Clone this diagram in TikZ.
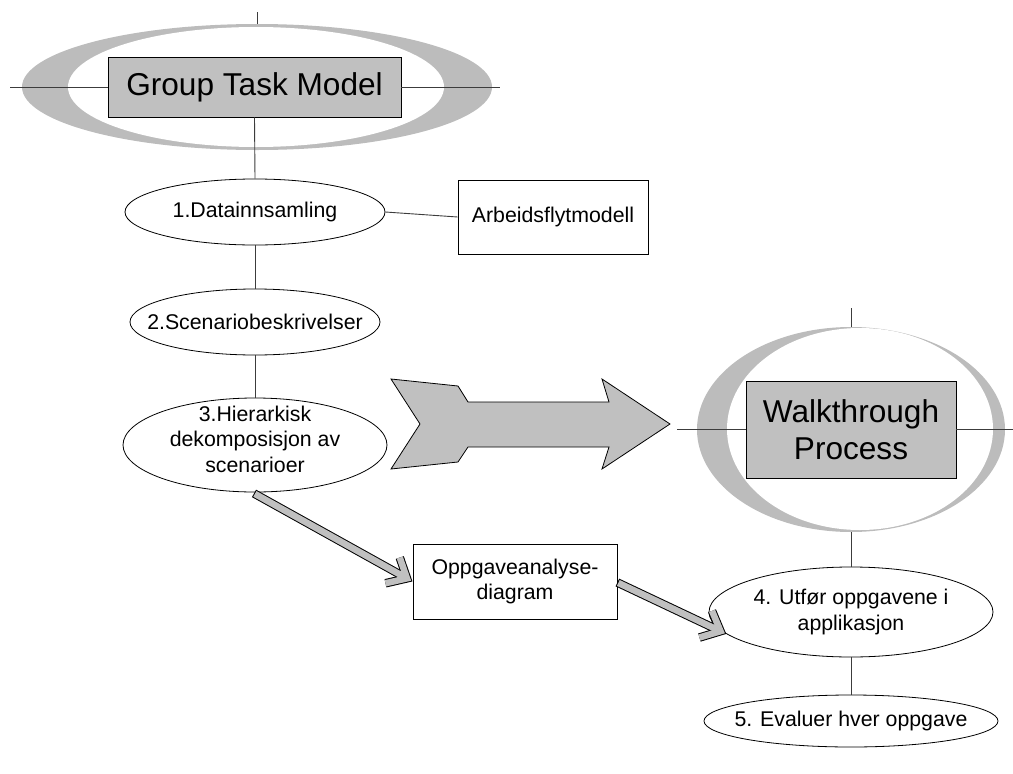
\documentclass[tikz,border=0pt]{standalone}
\usepackage{fontspec}
\setmainfont{Liberation Sans}
\usetikzlibrary{shapes.geometric,calc}
\definecolor{boxgray}{RGB}{192,192,192}
\definecolor{ringgray}{RGB}{188,188,188}
\definecolor{linegray}{RGB}{60,60,60}
\newcommand{\fatarr}[2]{%
  \draw[line width=8.5pt, black] (#1) -- (#2);
  \draw[line width=8.5pt, black, line join=miter, miter limit=10]
    ($(#2)!22pt!42:(#1)$) -- (#2) -- ($(#2)!22pt!-42:(#1)$);
  \draw[line width=6.5pt, boxgray, shorten <=1pt] (#1) -- (#2);
  \draw[line width=6.5pt, boxgray, line join=miter, miter limit=10]
    ($(#2)!22pt!42:(#1)$) -- (#2) -- ($(#2)!22pt!-42:(#1)$);
}
\begin{document}
\begin{tikzpicture}[x=1pt,y=-1pt,
  txt/.style={font=\fontsize{21.3}{25.5}\selectfont, align=center, inner sep=0pt},
  ell/.style={draw=black, ellipse, fill=white, inner sep=0pt, line width=0.8pt},
  plainbox/.style={draw=black, rectangle, fill=white, inner sep=0pt, line width=0.8pt,
    font=\fontsize{21.3}{25.5}\selectfont, align=center},
  titlebox/.style={draw=black, rectangle, fill=boxgray, inner sep=0pt, line width=0.8pt,
    font=\fontsize{31.6}{37}\selectfont, align=center},
  conn/.style={draw=linegray, line width=0.9pt}]
\useasboundingbox (0,0) rectangle (1013,774);

% rings
\fill[ringgray] (257,87) ellipse [x radius=235pt, y radius=63pt];
\fill[white] (256,87) ellipse [x radius=188pt, y radius=60pt];
\fill[ringgray] (851,429.5) ellipse [x radius=154pt, y radius=102.5pt];
\fill[white] (860,429) ellipse [x radius=133pt, y radius=101pt];

% nodes
\node[titlebox, minimum width=293pt, minimum height=60pt] (gtm) at (254.5,87) {Group Task Model};
\node[ell, minimum width=260pt, minimum height=66pt,
  label={[txt]center:1.Datainnsamling}] (e1) at (255,212) {};
\node[plainbox, minimum width=190pt, minimum height=74pt] (arb) at (553,217) {Arbeidsflytmodell};
\node[ell, minimum width=250pt, minimum height=66pt,
  label={[txt]center:2.Scenariobeskrivelser}] (e2) at (255,322) {};
\node[ell, minimum width=264pt, minimum height=94pt,
  label={[txt, yshift=6pt]center:{3.Hierarkisk\\dekomposisjon av\\scenarioer}}] (e3) at (255,445) {};
\node[titlebox, minimum width=210pt, minimum height=97pt] (wp) at (851,429.5) {Walkthrough\\Process};
\node[plainbox, minimum width=204pt, minimum height=75pt] (ob) at (515,581.5) {Oppgaveanalyse-\\diagram};
\node[ell, minimum width=284pt, minimum height=90pt,
  label={[txt]center:{4. Utfør oppgavene i\\applikasjon}}] (e4) at (851,612) {};
\node[ell, minimum width=294pt, minimum height=52pt,
  label={[txt]center:5. Evaluer hver oppgave}] (e5) at (851,721) {};

% cross-hair coordinates
\coordinate (gl) at (10,87);
\coordinate (gr) at (500,87);
\coordinate (gt) at (257,12);
\coordinate (gtb) at (257,24);
\coordinate (wl) at (677,429.5);
\coordinate (wr) at (1013,429.5);
\coordinate (wt) at (851,308);
\coordinate (wtb) at (851,327);
\coordinate (wbb) at (851,532);

% connectors
\draw[conn] (gl) -- (gtm.west);
\draw[conn] (gtm.east) -- (gr);
\draw[conn] (gt) -- (gtb);
\draw[conn] (gtm.south) -- (e1.north);
\draw[conn] (e1.east) -- (arb.west);
\draw[conn] (e1.south) -- (e2.north);
\draw[conn] (e2.south) -- (e3.north);
\draw[conn] (wl) -- (wp.west);
\draw[conn] (wp.east) -- (wr);
\draw[conn] (wt) -- (wtb);
\draw[conn] (wbb) -- (e4.north);
\draw[conn] (e4.south) -- (e5.north);

% big arrow
\draw[fill=boxgray, draw=black, line width=0.8pt, line join=miter]
  (391,379) -- (458,386) -- (468,402) -- (609,402) -- (602,379) -- (670,424)
  -- (602,469) -- (609,447) -- (468,447) -- (458,462) -- (391,469) -- (420,424) -- cycle;

% fat arrows
\coordinate (a1s) at ($(e3.south)+(-1,1)$);
\coordinate (a1t) at ($(ob.west)!6.5pt!(a1s)$);
\fatarr{a1s}{a1t}
\coordinate (a2s) at ($(ob.east)+(0,1)$);
\coordinate (a2t) at ($(e4.190)!6.5pt!(a2s)$);
\fatarr{a2s}{a2t}
\end{tikzpicture}
\end{document}
